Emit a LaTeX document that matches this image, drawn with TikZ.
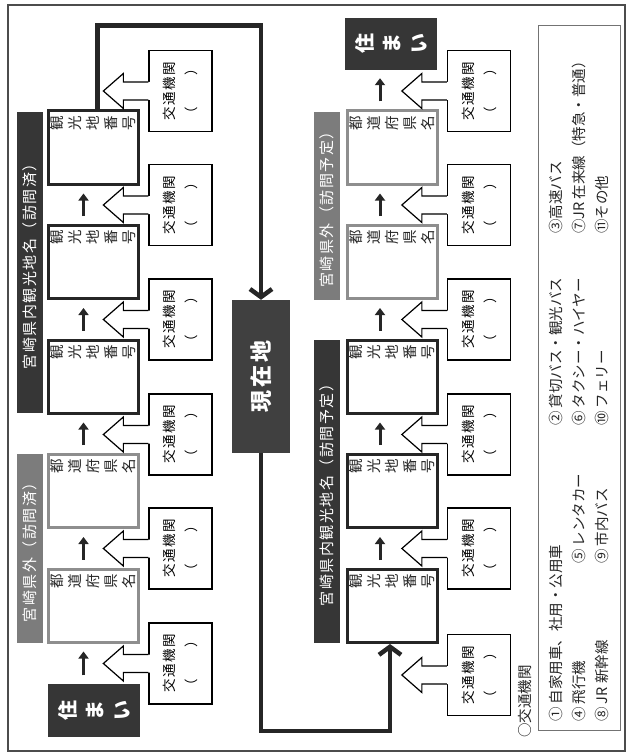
\documentclass[tikz,border=0pt]{standalone}
\usepackage{fontspec}
\setmainfont{Noto Sans CJK JP}
\usetikzlibrary{arrows.meta}
\makeatletter
\newcommand\spc[2]{\def\spc@amt{#1}\spc@aux#2\spc@end}
\def\spc@aux#1#2\spc@end{#1\ifx\relax#2\relax\else\hspace{\spc@amt}\spc@aux#2\spc@end\fi}
\makeatother
\definecolor{dk}{HTML}{363636}
\definecolor{gy}{HTML}{7C7C7C}
\definecolor{gyb}{HTML}{8E8E8E}
\newcommand\harr[1]{%
  \fill[white] ([xshift=1.6pt,yshift=9pt]#1.north) -- ++(-26.6,0) -- ++(0,-8.5) -- ++(-20,17.5) -- ++(20,17.5) -- ++(0,-8.5) -- ([xshift=1.6pt,yshift=-9pt]#1.north) -- cycle;
  \draw[harrowline] ([yshift=9pt]#1.north) -- ++(-25,0) -- ++(0,-8.5) -- ++(-20,17.5) -- ++(20,17.5) -- ++(0,-8.5) -- ([yshift=-9pt]#1.north);}
\tikzset{
  dbox/.style={draw=black!85, line width=3pt, fill=white, minimum width=90pt, minimum height=73pt, inner sep=0pt},
  gbox/.style={dbox, draw=gyb},
  blab/.style={rotate=90, anchor=east, inner sep=0pt, align=center, font=\fontsize{14.5}{18}\selectfont, text=black!85},
  tbox/.style={rotate=90, draw=black, line width=1.3pt, fill=white, minimum width=81pt, minimum height=63pt, inner sep=0pt, align=center, font=\fontsize{13.5}{22}\selectfont},
  bar/.style={rotate=90, fill=dk, text=white, minimum height=26pt, inner sep=0pt, font=\fontsize{15}{18}\selectfont},
  gbar/.style={bar, fill=gy},
  home/.style={rotate=90, fill=dk, text=white, minimum width=53pt, minimum height=92pt, inner sep=0pt, align=center, font=\fontsize{20}{27}\selectfont\bfseries},
  here/.style={rotate=90, fill=dk!95!white, text=white, minimum width=153pt, minimum height=58pt, inner sep=0pt, font=\fontsize{22}{26}\selectfont\bfseries},
  bigline/.style={line width=4.5pt, draw=black!85, -{Straight Barb[length=8pt,width=22pt]}},
  sarr/.style={line width=3pt, draw=black!85, -{Triangle[length=7pt,width=10pt]}},
  harrowline/.style={draw=black, line width=1.2pt, line join=miter},
  legbox/.style={draw=black!55, line width=0.8pt, minimum width=82pt, minimum height=705pt, inner sep=0pt},
  leg/.style={rotate=90, anchor=west, inner sep=0pt, font=\fontsize{14.5}{17}\selectfont, text=black!85}
}
\begin{document}
\begin{tikzpicture}[x=1pt,y=-1pt]
\useasboundingbox (0,0) rectangle (628,754);
\fill[white] (0,0) rectangle (628,754);
\draw[black!70, line width=1.2pt] (8,5) rectangle (625,751);

% title bars
\node[bar, minimum width=301pt] (LB1) at (30,262.5) {\spc{1.5pt}{宮崎県内観光地名（訪問済）}};
\node[gbar, minimum width=189pt] (LB2) at (30,548.5) {\spc{1.5pt}{宮崎県外（訪問済）}};
\node[gbar, minimum width=188pt] (RB1) at (326.5,206) {\spc{1.5pt}{宮崎県外（訪問予定）}};
\node[bar, minimum width=303pt] (RB2) at (326.5,491.5) {\spc{1.5pt}{宮崎県内観光地名（訪問予定）}};

% left column boxes
\node[dbox] (A) at (93.5,147.5) {};
\node[dbox] (B) at (93.5,262) {};
\node[dbox] (C) at (93.5,376.5) {};
\node[gbox] (D) at (93.5,491) {};
\node[gbox] (E) at (93.5,605.5) {};
\node[home] (HL) at (94,710) {住\\ま\\い};
\node[blab] (Al) at ([yshift=-6pt]A.north) {観\\光\\地\\番\\号};
\node[blab] (Bl) at ([yshift=-6pt]B.north) {観\\光\\地\\番\\号};
\node[blab] (Cl) at ([yshift=-6pt]C.north) {観\\光\\地\\番\\号};
\node[blab] (Dl) at ([yshift=-6pt]D.north) {都\\道\\府\\県\\名};
\node[blab] (El) at ([yshift=-6pt]E.north) {都\\道\\府\\県\\名};

% right column boxes
\node[home, minimum width=52pt] (HR) at (391,44) {住\\ま\\い};
\node[gbox] (R1) at (392,147.5) {};
\node[gbox] (R2) at (392,262) {};
\node[dbox] (R3) at (392,376.5) {};
\node[dbox] (R4) at (392,491) {};
\node[dbox] (R5) at (392,606) {};
\node[blab] (R1l) at ([yshift=-6pt]R1.north) {都\\道\\府\\県\\名};
\node[blab] (R2l) at ([yshift=-6pt]R2.north) {都\\道\\府\\県\\名};
\node[blab] (R3l) at ([yshift=-6pt]R3.north) {観\\光\\地\\番\\号};
\node[blab] (R4l) at ([yshift=-6pt]R4.north) {観\\光\\地\\番\\号};
\node[blab] (R5l) at ([yshift=-6pt]R5.north) {観\\光\\地\\番\\号};

% current location
\node[here] (G) at (261,376.5) {\spc{3pt}{現在地}};

% transport boxes
\foreach \n/\x/\y in {T1/180.5/91, T2/180.5/205, T3/180.5/319.5, T4/180.5/434.5, T5/180.5/548.5, T6/180.5/663.5,
                      U1/479/91, U2/479/205, U3/479/319.5, U4/479/434.5, U5/479/548.5, U6/479/675}{
  \node[tbox] (\n) at (\x,\y) {\spc{1.5pt}{交通機関}\\（\hspace{31.5pt}）};
  \harr{\n}
}

% small arrows
\foreach \lo/\up in {B/A, C/B, D/C, E/D}
  \draw[sarr] ([xshift=-10pt,yshift=8pt]\lo.north) -- ([xshift=-10pt,yshift=-8pt]\up.south);
\draw[sarr] ([xshift=-10.5pt,yshift=8pt]HL.east) -- ([xshift=-10pt,yshift=-8pt]E.south);
\foreach \lo/\up in {R2/R1, R3/R2, R4/R3, R5/R4}
  \draw[sarr] ([xshift=-12pt,yshift=8pt]\lo.north) -- ([xshift=-12pt,yshift=-8pt]\up.south);
\draw[sarr] ([xshift=-12pt,yshift=8pt]R1.north) -- ([xshift=-11pt,yshift=-8pt]HR.west);

% main loop
\coordinate (k1) at (261,25.5);
\coordinate (k2) at (261,731);
\coordinate (k3) at (390,731);
\draw[bigline] ([xshift=4pt]A.north) |- (k1) -- (G.east);
\draw[bigline] (G.west) -- (k2) -- (k3) -- ([xshift=-2pt]R5.south);

% legend
\node[legbox] (L) at (579,377.5) {};
\node[leg] (L0) at (525,738) {○交通機関};
\node[leg] (L1) at (556,722) {① 自家用車、社用・公用車};
\node[leg] (L4) at (579,722) {④ 飛行機};
\node[leg] (L8) at (602,722) {⑧ JR 新幹線};
\node[leg] (L5) at (579,564) {⑤ レンタカー};
\node[leg] (L9) at (602,564) {⑨ 市内バス};
\node[leg] (L2) at (556,426) {② 貸切バス・観光バス};
\node[leg] (L6) at (579,426) {⑥ タクシー・ハイヤー};
\node[leg] (L10) at (602,426) {⑩ フェリー};
\node[leg] (L3) at (556,234) {③高速バス};
\node[leg] (L7) at (579,234) {⑦JR 在来線（特急・普通）};
\node[leg] (L11) at (602,234) {⑪その他};
\end{tikzpicture}
\end{document}
